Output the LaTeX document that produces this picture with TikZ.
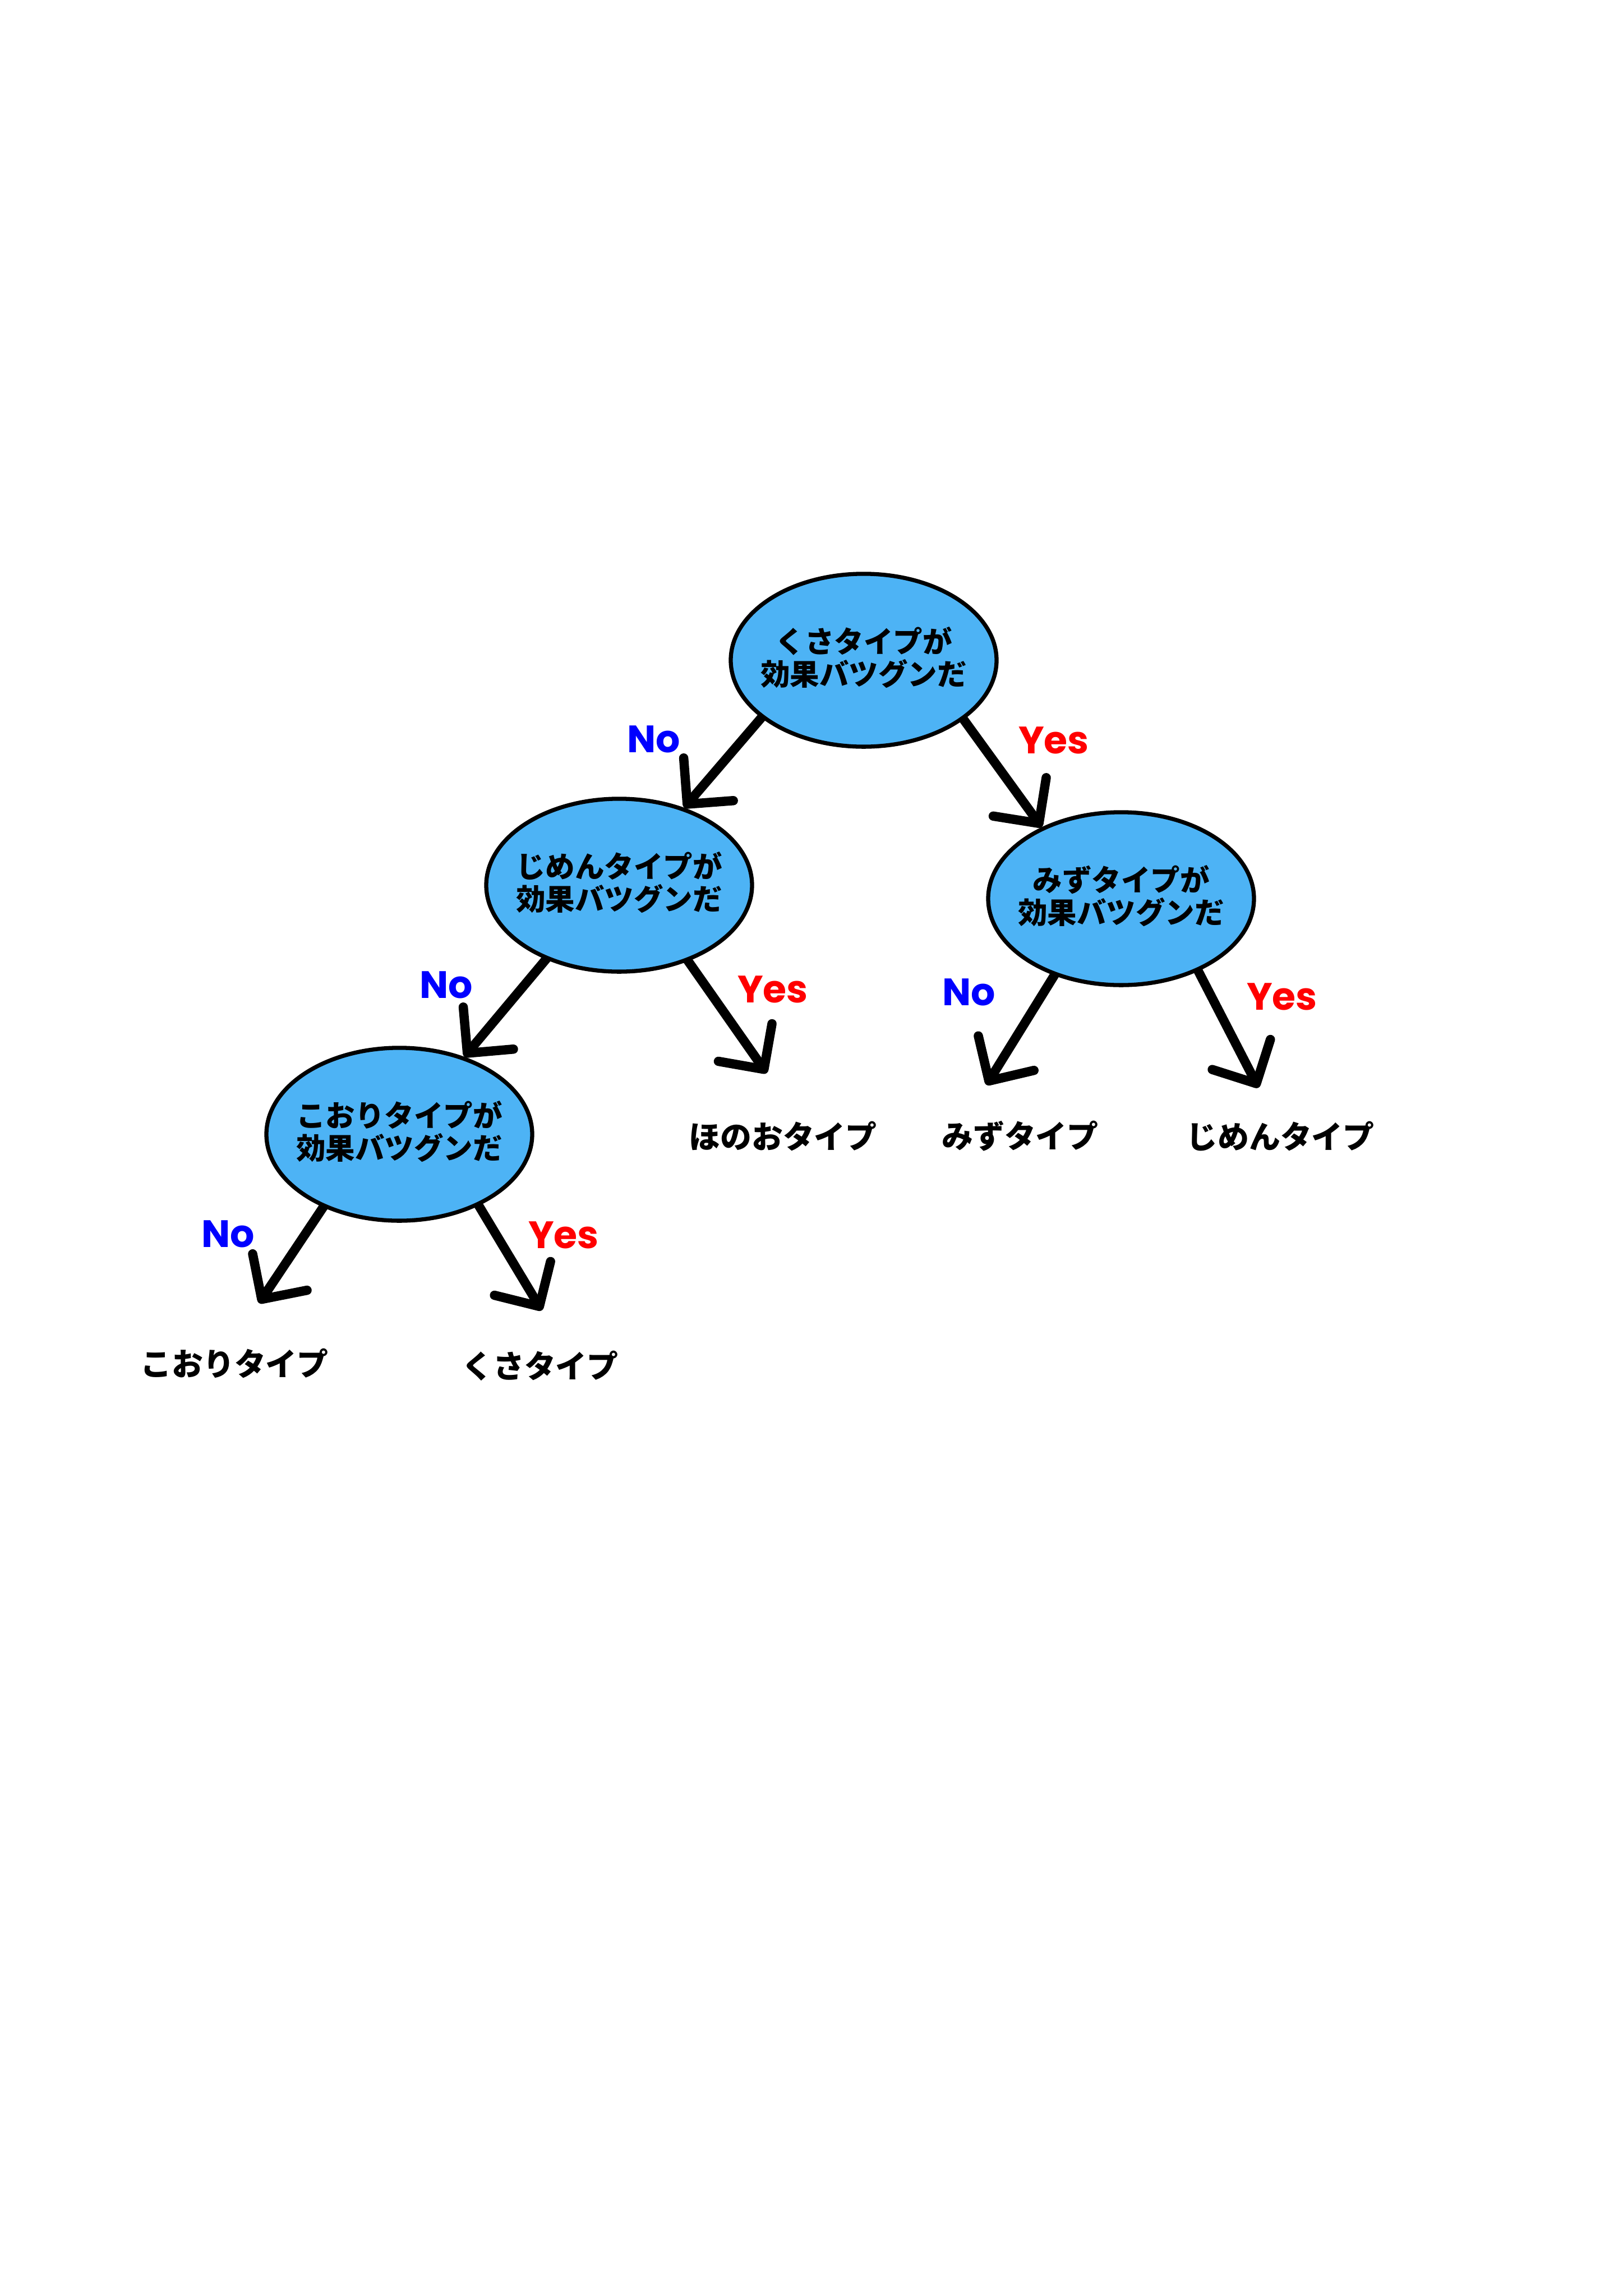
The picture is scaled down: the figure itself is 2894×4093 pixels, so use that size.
\documentclass[tikz,border=0pt]{standalone}
\usepackage{fontspec}
\newfontfamily\cjk{Noto Sans CJK JP}
\newfontfamily\lblfont{Poppins}
\usetikzlibrary{shapes.geometric,arrows.meta,backgrounds}
\definecolor{nodeblue}{HTML}{4DB3F5}
\definecolor{noblue}{HTML}{0000FF}
\definecolor{yesred}{HTML}{FF0000}
\begin{document}
\begin{tikzpicture}[x=0.2057pt,y=-0.2057pt,
  decision/.style={ellipse,draw=black,line width=1.5pt,fill=nodeblue,minimum width=97.5pt,minimum height=63.4pt,inner sep=0pt},
  qtext/.style={font=\cjk\bfseries\fontsize{10.8pt}{12pt}\selectfont,align=center,inner sep=0pt},
  leaf/.style={font=\cjk\bfseries\fontsize{11.5pt}{13pt}\selectfont,inner sep=0pt},
  nolbl/.style={font=\lblfont\bfseries\fontsize{14pt}{16pt}\selectfont,text=noblue,inner sep=0pt},
  yeslbl/.style={font=\lblfont\bfseries\fontsize{14pt}{16pt}\selectfont,text=yesred,inner sep=0pt},
  branch/.style={line width=3.4pt,line cap=round,-{Straight Barb[length=12pt,width=24pt,line cap=round,line join=round]}}
]
\node[decision] (top) at (1540,1177) {};
\node[decision] (left) at (1104,1578) {};
\node[decision] (right) at (1999,1602) {};
\node[decision] (bl) at (712,2022) {};

\coordinate (fireTip) at (1367,1913);
\coordinate (mizuTip) at (1759,1934);
\coordinate (jimenTip) at (2244,1939);
\coordinate (kooriTip) at (462,2323);
\coordinate (kusaTip) at (966,2336);

\begin{pgfonlayer}{background}
\fill[white] (0,0) rectangle (2894,4093);
\draw[branch] ([shift={(14,-8)}]top.208) -- (left.50);
\draw[branch] ([shift={(-14,-8)}]top.331) -- (right.138);
\draw[branch] ([shift={(10,-10)}]left.225) -- (bl.50);
\draw[branch] ([shift={(-10,-10)}]left.313) -- (fireTip);
\draw[branch] ([shift={(10,-10)}]right.228) -- (mizuTip);
\draw[branch] ([shift={(-10,-10)}]right.318) -- (jimenTip);
\draw[branch] ([shift={(10,-10)}]bl.223) -- (kooriTip);
\draw[branch] ([shift={(-10,-10)}]bl.319) -- (kusaTip);
\end{pgfonlayer}
\useasboundingbox (0,0) rectangle (2894,4093);

\node[qtext] (topt) at (1540,1172) {くさタイプが\\効果バツグンだ};
\node[qtext] (leftt) at (1104,1573) {じめんタイプが\\効果バツグンだ};
\node[qtext] (rightt) at (1999,1597) {みずタイプが\\効果バツグンだ};
\node[qtext] (blt) at (712,2017) {こおりタイプが\\効果バツグンだ};

\node[leaf] (fire) at (1396,2025) {ほのおタイプ};
\node[leaf] (mizu) at (1819,2025) {みずタイプ};
\node[leaf] (jimen) at (2283,2025) {じめんタイプ};
\node[leaf] (koori) at (418,2430) {こおりタイプ};
\node[leaf] (kusa) at (963,2435) {くさタイプ};

\node[nolbl] (n1) at (1166,1318) {No};
\node[yeslbl] (y1) at (1879,1320) {Yes};
\node[nolbl] (n2) at (796,1756) {No};
\node[yeslbl] (y2) at (1378,1764) {Yes};
\node[nolbl] (n3) at (1728,1769) {No};
\node[yeslbl] (y3) at (2286,1777) {Yes};
\node[nolbl] (n4) at (407,2200) {No};
\node[yeslbl] (y4) at (1005,2202) {Yes};
\end{tikzpicture}
\end{document}
